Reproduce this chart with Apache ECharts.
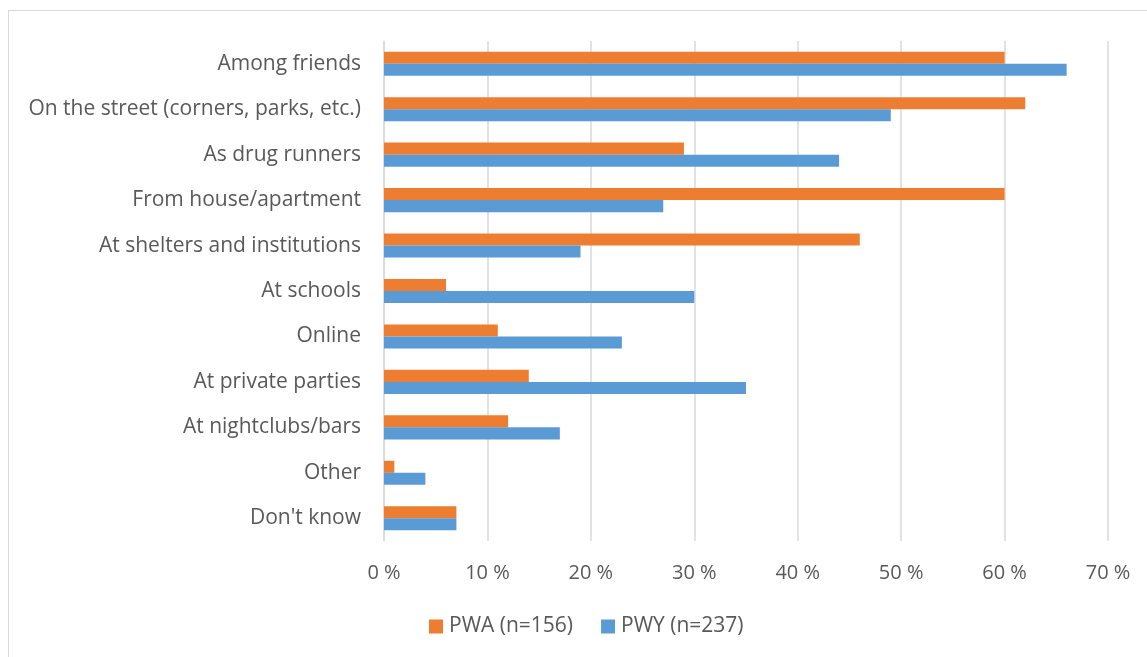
<!DOCTYPE html>
<html>
<head>
<meta charset="utf-8">
<script src="https://cdn.jsdelivr.net/npm/echarts@6/dist/echarts.min.js"></script>
<style>
html,body{margin:0;padding:0;background:#fff;overflow:hidden;}
#frame{position:absolute;left:8px;top:10px;width:1200px;height:700px;border:1.5px solid #d9d9d9;box-sizing:border-box;}
#chart{position:absolute;left:0;top:0;width:1147px;height:657px;}
</style>
</head>
<body>
<div id="frame"></div>
<div id="chart"></div>
<script>
var categories = ["Among friends","On the street (corners, parks, etc.)","As drug runners","From house/apartment","At shelters and institutions","At schools","Online","At private parties","At nightclubs/bars","Other","Don't know"];
var pwa = [60,62,29,60,46,6,11,14,12,1,7];
var pwy = [66,49,44,27,19,30,23,35,17,4,7];
var xTicks = [0,10,20,30,40,50,60,70];
var seriesNames = ["PWA (n=156)","PWY (n=237)"];

var font = "'Open Sans', 'Noto Sans', sans-serif";
var chart = echarts.init(document.getElementById('chart'));
chart.setOption({
  animation:false,
  backgroundColor:'transparent',
  grid:{left:384,right:39,top:41,bottom:116,containLabel:false},
  legend:{
    data:seriesNames,
    left:429, top:616, padding:0,
    itemWidth:14,itemHeight:14,itemGap:28,
    icon:'rect',
    textStyle:{fontFamily:font,fontSize:21,color:'#595959',padding:[0,0,0,1]}
  },
  xAxis:{
    type:'value',min:xTicks[0],max:xTicks[xTicks.length-1],interval:10,
    axisLabel:{formatter:'{value} %',fontFamily:font,fontSize:20,color:'#595959',margin:22},
    axisLine:{show:false},axisTick:{show:false},
    splitLine:{lineStyle:{color:'#d9d9d9',width:1.5}}
  },
  yAxis:{
    type:'category',data:categories,inverse:true,
    axisLabel:{fontFamily:font,fontSize:21,color:'#595959',margin:23},
    axisLine:{show:true,lineStyle:{color:'#d9d9d9',width:1.5}},
    axisTick:{show:false}
  },
  series:[
    {name:seriesNames[0],type:'bar',data:pwa,barGap:'0%',barCategoryGap:'47%',
     itemStyle:{color:'#ED7D31'}},
    {name:seriesNames[1],type:'bar',data:pwy,barGap:'0%',barCategoryGap:'47%',
     itemStyle:{color:'#5B9BD5'}}
  ]
});
</script>
</body>
</html>
